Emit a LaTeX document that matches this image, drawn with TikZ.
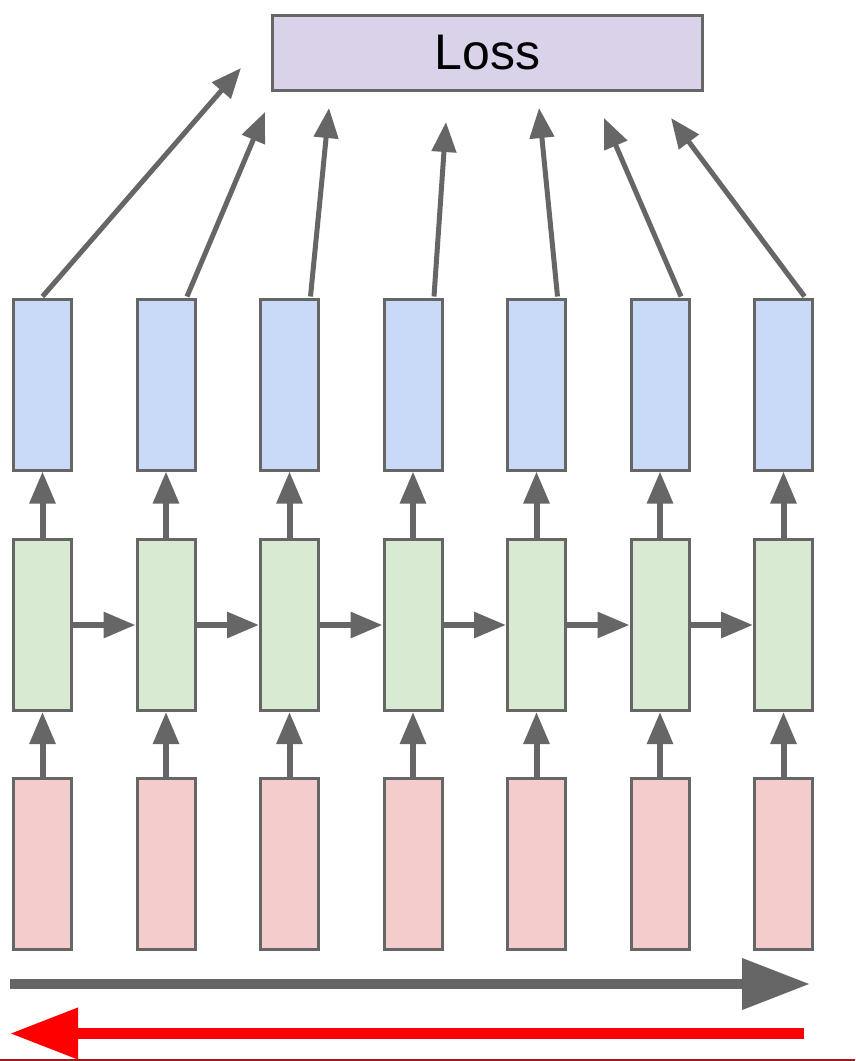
\documentclass[tikz,border=0pt]{standalone}
\usepackage{fontspec}
\setmainfont{Liberation Sans}
\usetikzlibrary{arrows.meta,calc}
\definecolor{edgegray}{HTML}{666666}
\definecolor{bluefill}{HTML}{C9DAF8}
\definecolor{greenfill}{HTML}{D9EAD3}
\definecolor{redfill}{HTML}{F4CCCC}
\definecolor{lossfill}{HTML}{D9D2E9}
\definecolor{bottomline}{HTML}{9B1C1C}
\tikzset{
  cell/.style={draw=edgegray, line width=3pt, rectangle, minimum width=58pt, minimum height=171pt, inner sep=0pt},
  outcell/.style={cell, fill=bluefill},
  hidcell/.style={cell, fill=greenfill},
  incell/.style={cell, fill=redfill},
  lossbox/.style={draw=edgegray, line width=3pt, fill=lossfill, rectangle, minimum width=430pt, minimum height=75pt, inner sep=0pt, font=\fontsize{50}{60}\selectfont},
  conn/.style={draw=edgegray, line width=6pt, -{Triangle[length=32pt,width=25pt]}},
  diag/.style={draw=edgegray, line width=5pt, -{Triangle[length=30pt,width=24pt]}},
  bigarrow/.style={line width=10.5pt, -{Triangle[length=68pt,width=49pt]}}
}
\begin{document}
\begin{tikzpicture}[x=1pt,y=-1pt]
\useasboundingbox[fill=white] (0,0) rectangle (855,1061);
\node[lossbox] (loss) at (487.5,53) {Loss};
\foreach \i in {1,...,7}{
  \pgfmathsetmacro{\cx}{42.5+123.5*(\i-1)}
  \node[outcell] (o\i) at (\cx,384.5) {};
  \node[hidcell] (h\i) at (\cx,625) {};
  \node[incell] (x\i) at (\cx,864) {};
  \draw[conn] (x\i.north) -- (h\i.south);
  \draw[conn] (h\i.north) -- (o\i.south);
}
\foreach \i [evaluate=\i as \j using int(\i+1)] in {1,...,6}{
  \draw[conn] (h\i.east) -- (h\j.west);
}
% free ends of the arrows toward the loss
\coordinate (t1) at (241,68);
\coordinate (t2) at (265,112);
\coordinate (t3) at (329,108);
\coordinate (t4) at (446,122);
\coordinate (t5) at (539,108);
\coordinate (t6) at (604,118);
\coordinate (t7) at (671,118);
\draw[diag] ($(o1.north)+(0,-1)$) -- (t1);
\foreach \i in {2,...,7}{
  \draw[diag] ($(o\i.north)+(21,-1)$) -- (t\i);
}
% direction arrows
\coordinate (fa) at (10,984);
\coordinate (fb) at (810,984);
\coordinate (ba) at (804,1033.5);
\coordinate (bb) at (10,1033.5);
\draw[bigarrow, edgegray] (fa) -- (fb);
\draw[bigarrow, red] (ba) -- (bb);
\coordinate (la) at (0,1060);
\coordinate (lb) at (855,1060);
\draw[bottomline, line width=1.2pt] (la) -- (lb);
\end{tikzpicture}
\end{document}
